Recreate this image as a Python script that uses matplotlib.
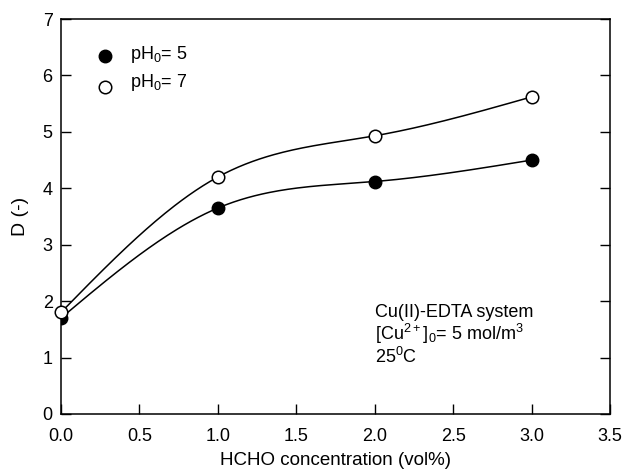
import numpy as np
import matplotlib
matplotlib.use("Agg")
import matplotlib.pyplot as plt

plt.rcParams['font.family'] = ['Liberation Sans', 'DejaVu Sans']
plt.rcParams['mathtext.fontset'] = 'custom'
plt.rcParams['mathtext.rm'] = 'Liberation Sans'

hcho = [0.0, 1.0, 2.0, 3.0]
d_ph5 = [1.70, 3.65, 4.12, 4.50]
d_ph7 = [1.80, 4.20, 4.93, 5.62]


def natural_spline(x, y, n=200):
    x = np.asarray(x, float); y = np.asarray(y, float)
    k = len(x); h = np.diff(x)
    A = np.zeros((k, k)); b = np.zeros(k)
    A[0, 0] = A[-1, -1] = 1
    for i in range(1, k - 1):
        A[i, i - 1] = h[i - 1]; A[i, i] = 2 * (h[i - 1] + h[i]); A[i, i + 1] = h[i]
        b[i] = 3 * ((y[i + 1] - y[i]) / h[i] - (y[i] - y[i - 1]) / h[i - 1])
    c = np.linalg.solve(A, b)
    xs = np.linspace(x[0], x[-1], n); ys = np.empty_like(xs)
    for j, xv in enumerate(xs):
        i = min(np.searchsorted(x, xv, side='right') - 1, k - 2)
        dx = xv - x[i]
        bb = (y[i + 1] - y[i]) / h[i] - h[i] * (2 * c[i] + c[i + 1]) / 3
        dd = (c[i + 1] - c[i]) / (3 * h[i])
        ys[j] = y[i] + bb * dx + c[i] * dx ** 2 + dd * dx ** 3
    return xs, ys


fig = plt.figure(figsize=(6.26, 4.72), dpi=100)
ax = fig.add_axes([0.0974, 0.1229, 0.877, 0.8368])

for yv in (d_ph5, d_ph7):
    xs, ys = natural_spline(hcho, yv)
    ax.plot(xs, ys, color='black', lw=1.1, zorder=2)

ax.plot(hcho, d_ph5, 'o', ms=9, mfc='black', mec='black', zorder=3)
ax.plot(hcho, d_ph7, 'o', ms=9, mfc='white', mec='black', mew=1.1, zorder=4, clip_on=False)

ax.set_xlim(0, 3.5)
ax.set_ylim(0, 7)
ax.set_xticks(np.arange(0, 3.51, 0.5))
ax.set_xticklabels([f"{v:.1f}" for v in np.arange(0, 3.51, 0.5)])
ax.set_yticks(range(0, 8))
ax.tick_params(direction='in', length=7, width=1, labelsize=13, right=True, top=False)
ax.tick_params(axis='x', pad=10)
ax.tick_params(axis='y', pad=6)
for s in ax.spines.values():
    s.set_linewidth(1.1)

ax.set_xlabel('HCHO concentration (vol%)', fontsize=13.5, labelpad=5)
ax.set_ylabel('D (-)', fontsize=14, labelpad=10)

# legend
ax.plot([0.28], [6.35], 'o', ms=9, mfc='black', mec='black', clip_on=False)
ax.plot([0.28], [5.80], 'o', ms=9, mfc='white', mec='black', mew=1.1, clip_on=False)
ax.text(0.44, 6.38, r'pH$_0$= 5', fontsize=13, va='center')
ax.text(0.44, 5.88, r'pH$_0$= 7', fontsize=13, va='center')

ax.text(2.0, 1.95, 'Cu(II)-EDTA system\n[Cu$^{2+}$]$_0$= 5 mol/m$^3$\n25$^0$C',
        fontsize=13, va='top', ha='left', linespacing=1.05)

fig.savefig('out.png', dpi=100)
